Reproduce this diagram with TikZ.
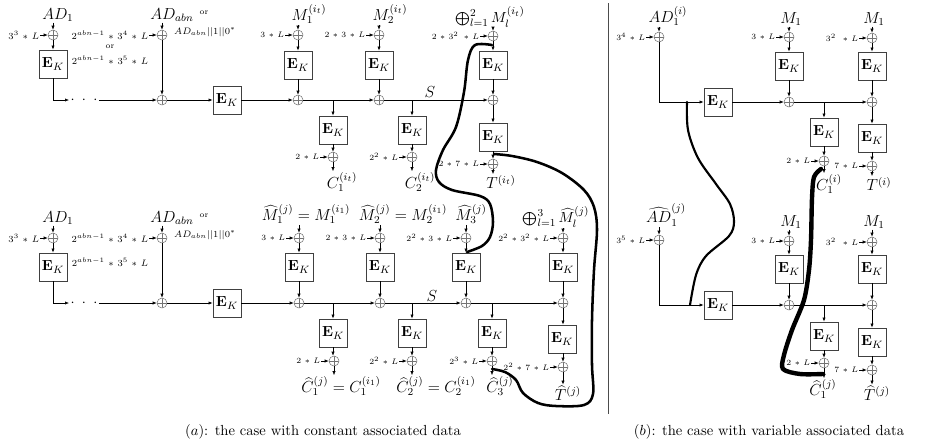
\documentclass[tikz,border=0pt]{standalone}
\usetikzlibrary{arrows.meta}
\tikzset{
  arr/.style={-{Latex[length=3pt,width=2.4pt]}, line width=0.45pt},
  ek/.style={draw=black!75, line width=0.6pt, minimum width=21pt, minimum height=21pt, inner sep=0pt, font=\fontsize{10.95}{12}\selectfont},
  xr/.style={circle, draw=black!55, line width=0.4pt, minimum size=7.5pt, inner sep=0pt,
    path picture={\draw[black!55, line width=0.4pt] (path picture bounding box.north) -- (path picture bounding box.south) (path picture bounding box.west) -- (path picture bounding box.east);}},
  sl/.style={font={\fontsize{6}{7}\selectfont\medmuskip=6mu}, inner sep=0.5pt},
  sL/.style={font={\fontsize{7}{8}\selectfont\medmuskip=6mu}, inner sep=0.5pt},
  bl/.style={font=\fontsize{12}{14}\selectfont, inner sep=0.5pt},
  ml/.style={font=\fontsize{7}{9}\selectfont, inner sep=1pt},
  orl/.style={font=\fontsize{6}{7}\selectfont, inner sep=0.5pt},
  hand/.style={line width=1.9pt, line cap=round, line join=round},
}
\newcommand\ekn[3]{\node[ek] (#1) at (#2,#3) {$\mathbf{E}_K$};}
\newcommand\xorL[5]{%
  \node[xr] (#1) at (#2,#3) {};
  \node[#5, anchor=east] (#1l) at (#2-13,#3) {$#4$};
  \draw[arr] (#1l.east) -- (#1.west);}
\begin{document}
\begin{tikzpicture}[x=0.75pt,y=-0.75pt]
\useasboundingbox (0,0) rectangle (935,444);
% ================= (a) top row =================
\node[bl] (tAD) at (58,15) {$AD_1$};
\xorL{tXa}{53}{35}{3^3*L}{sL}
\ekn{tEa}{53}{64}
\draw[arr] (tXa |- tAD.south) -- (tXa.north);
\draw[arr] (tXa) -- (tEa);
\node[inner sep=1pt, font=\fontsize{10.95}{12}\selectfont] (tDots) at (84,100) {$\cdot\;\cdot\;\cdot$};
\draw[arr] (tEa.south) |- (tDots.west);
\node[bl] (tADn) at (172,15) {$AD_{abn}$};
\node[orl] (tor1) at (204,13) {or};
\node[ml] (tADn2) at (205,32) {$AD_{abn}||1||0^*$};
\xorL{tXb}{162}{35}{2^{abn-1}*3^4*L}{sL}
\node[orl] (tor2) at (110,47) {or};
\node[sL] (t35) at (110,60) {$2^{abn-1}*3^5*L$};
\node[xr] (tXc) at (162,100) {};
\draw[arr] (tXb |- tADn.south) -- (tXb.north);
\draw[arr] (tDots.east) -- (tXc.west);
\draw[arr] (tXb) -- (tXc);
\ekn{tEb}{227}{100}
\draw[arr] (tXc) -- (tEb);
% column 1
\node[bl] (tM1) at (309,14) {$M_1^{(i_t)}$};
\xorL{tX1}{298}{35}{3*L}{sl}
\ekn{tE1}{298}{65}
\node[xr] (tY1) at (298,100) {};
\draw[arr] (tX1 |- tM1.south) -- (tX1.north);
\draw[arr] (tX1) -- (tE1);
\draw[arr] (tE1) -- (tY1);
\draw[arr] (tEb) -- (tY1);
% column 2
\node[bl] (tM2) at (390,14) {$M_2^{(i_t)}$};
\xorL{tX2}{379}{35}{2*3*L}{sl}
\ekn{tE2}{379}{65}
\node[xr] (tY2) at (379,100) {};
\draw[arr] (tX2 |- tM2.south) -- (tX2.north);
\draw[arr] (tX2) -- (tE2);
\draw[arr] (tE2) -- (tY2);
\draw[arr] (tY1) -- (tY2);
% column 3 (final)
\node[bl, font=\fontsize{10.95}{12}\selectfont] (tM3) at (490,17) {$\bigoplus_{l=1}^2 M_l^{(i_t)}$};
\xorL{tX3}{493}{36}{2*3^2\,*L}{sl}
\ekn{tE3}{493}{65}
\node[xr] (tY3) at (493,100) {};
\ekn{tF3}{493}{137}
\xorL{tZ3}{493}{164}{2*7*L}{sl}
\node[bl] (tT) at (501,182) {$T^{(i_t)}$};
\draw[arr] (tX3 |- tM3.south) -- (tX3.north);
\draw[arr] (tX3) -- (tE3);
\draw[arr] (tE3) -- (tY3);
\draw[arr] (tY2) -- (tY3);
\draw[arr] (tY3) -- (tF3);
\draw[arr] (tF3) -- (tZ3);
\draw[arr] (tZ3) -- (tZ3 |- tT.north);
\node[bl] (tS) at (430,92) {$S$};
% lower
\coordinate (tB1) at (333,100);
\ekn{tL1}{333}{130}
\xorL{tW1}{333}{157}{2*L}{sl}
\node[bl] (tC1) at (342,182) {$C_1^{(i_t)}$};
\draw[arr] (tB1) -- (tL1);
\draw[arr] (tL1) -- (tW1);
\draw[arr] (tW1) -- (tW1 |- tC1.north);
\coordinate (tB2) at (412,100);
\ekn{tL2}{412}{130}
\xorL{tW2}{412}{157}{2^2*L}{sl}
\node[bl] (tC2) at (420,182) {$C_2^{(i_t)}$};
\draw[arr] (tB2) -- (tL2);
\draw[arr] (tL2) -- (tW2);
\draw[arr] (tW2) -- (tW2 |- tC2.north);
% ================= (a) bottom row =================
\node[bl] (bAD) at (58,218) {$AD_1$};
\xorL{bXa}{53}{238}{3^3*L}{sL}
\ekn{bEa}{53}{267}
\draw[arr] (bXa |- bAD.south) -- (bXa.north);
\draw[arr] (bXa) -- (bEa);
\node[inner sep=1pt, font=\fontsize{10.95}{12}\selectfont] (bDots) at (84,303) {$\cdot\;\cdot\;\cdot$};
\draw[arr] (bEa.south) |- (bDots.west);
\node[bl] (bADn) at (172,218) {$AD_{abn}$};
\node[orl] (bor1) at (204,216) {or};
\node[ml] (bADn2) at (205,235) {$AD_{abn}||1||0^*$};
\xorL{bXb}{162}{238}{2^{abn-1}*3^4*L}{sL}
\node[sL] (b35) at (110,262) {$2^{abn-1}*3^5*L$};
\node[xr] (bXc) at (162,303) {};
\draw[arr] (bXb |- bADn.south) -- (bXb.north);
\draw[arr] (bDots.east) -- (bXc.west);
\draw[arr] (bXb) -- (bXc);
\ekn{bEb}{227}{303}
\draw[arr] (bXc) -- (bEb);
% column 1
\node[bl] (bM1) at (306,214) {$\widehat{M}_1^{(j)}=M_1^{(i_1)}$};
\xorL{bX1}{299}{238}{3*L}{sl}
\ekn{bE1}{299}{267}
\node[xr] (bY1) at (299,303) {};
\draw[arr] (bX1 |- bM1.south) -- (bX1.north);
\draw[arr] (bX1) -- (bE1);
\draw[arr] (bE1) -- (bY1);
\draw[arr] (bEb) -- (bY1);
% column 2
\node[bl] (bM2) at (403,214) {$\widehat{M}_2^{(j)}=M_2^{(i_1)}$};
\xorL{bX2}{380}{238}{2*3*L}{sl}
\ekn{bE2}{380}{267}
\node[xr] (bY2) at (380,303) {};
\draw[arr] (bX2 |- bM2.south) -- (bX2.north);
\draw[arr] (bX2) -- (bE2);
\draw[arr] (bE2) -- (bY2);
\draw[arr] (bY1) -- (bY2);
% column 3
\node[bl] (bM3) at (471,214) {$\widehat{M}_3^{(j)}$};
\xorL{bX3}{466}{238}{2^2*3*L}{sl}
\ekn{bE3}{466}{267}
\node[xr] (bY3) at (466,303) {};
\draw[arr] (bX3 |- bM3.south) -- (bX3.north);
\draw[arr] (bX3) -- (bE3);
\draw[arr] (bE3) -- (bY3);
\draw[arr] (bY2) -- (bY3);
% column 4 (final)
\node[bl, font=\fontsize{10.95}{12}\selectfont] (bM4) at (556,217) {$\bigoplus_{l=1}^3 \widehat{M}_l^{(j)}$};
\xorL{bX4}{563}{238}{2^2*3^2*L}{sl}
\ekn{bE4}{563}{267}
\node[xr] (bY4) at (563,303) {};
\ekn{bF4}{562}{339}
\xorL{bZ4}{563}{367}{2^2*7*L}{sl}
\node[bl] (bT) at (568,393) {$\widehat{T}^{(j)}$};
\draw[arr] (bX4 |- bM4.south) -- (bX4.north);
\draw[arr] (bX4) -- (bE4);
\draw[arr] (bE4) -- (bY4);
\draw[arr] (bY3) -- (bY4);
\draw[arr] (bY4) -- (bY4 |- bF4.north);
\draw[arr] (bZ4 |- bF4.south) -- (bZ4);
\draw[arr] (bZ4) -- (bZ4 |- bT.north);
\node[bl] (bS) at (432,296) {$S$};
% lower
\coordinate (bB1) at (333,303);
\ekn{bL1}{333}{333}
\xorL{bW1}{334}{361}{2*L}{sl}
\node[bl] (bC1) at (341,386) {$\widehat{C}_1^{(j)}=C_1^{(i_1)}$};
\draw[arr] (bB1) -- (bL1);
\draw[arr] (bL1) -- (bL1 |- bW1.north);
\draw[arr] (bW1) -- (bW1 |- bC1.north);
\coordinate (bB2) at (412,303);
\ekn{bL2}{412}{333}
\xorL{bW2}{412}{361}{2^2*L}{sl}
\node[bl] (bC2) at (436,386) {$\widehat{C}_2^{(j)}=C_2^{(i_1)}$};
\draw[arr] (bB2) -- (bL2);
\draw[arr] (bL2) -- (bW2);
\draw[arr] (bW2) -- (bW2 |- bC2.north);
\coordinate (bB3) at (492,303);
\ekn{bL3}{492}{333}
\xorL{bW3}{492}{361}{2^3*L}{sl}
\node[bl] (bC3) at (500,386) {$\widehat{C}_3^{(j)}$};
\draw[arr] (bB3) -- (bL3);
\draw[arr] (bL3) -- (bW3);
\draw[arr] (bW3) -- (bW3 |- bC3.north);
% ================= separator =================
\coordinate (sepT) at (608,3);
\coordinate (sepB) at (608,414);
\draw[line width=0.6pt, black!70] (sepT) -- (sepB);
% ================= (b) top =================
\node[bl] (rAD) at (668,16) {$AD_1^{(i)}$};
\xorL{rXa}{659}{37}{3^4*L}{sl}
\ekn{rEa}{718}{102}
\draw[arr] (rXa |- rAD.south) -- (rXa.north);
\draw[arr] (rXa.south) |- (rEa.west);
\node[bl] (rM1) at (791,19) {$M_1$};
\xorL{rX1}{789}{37}{3*L}{sl}
\ekn{rE1}{789}{66}
\node[xr] (rY1) at (789,102) {};
\draw[arr] (rX1 |- rM1.south) -- (rX1.north);
\draw[arr] (rX1) -- (rE1);
\draw[arr] (rE1) -- (rY1);
\draw[arr] (rEa) -- (rY1);
\node[bl] (rM2) at (874,19) {$M_1$};
\xorL{rX2}{872}{38}{3^2\ *L}{sl}
\ekn{rE2}{872}{66}
\node[xr] (rY2) at (872,102) {};
\ekn{rF2}{872}{138}
\xorL{rZ2}{872}{166}{7*L}{sl}
\node[bl] (rT) at (879,184) {$T^{(i)}$};
\draw[arr] (rX2 |- rM2.south) -- (rX2.north);
\draw[arr] (rX2) -- (rE2);
\draw[arr] (rE2) -- (rY2);
\draw[arr] (rY1) -- (rY2);
\draw[arr] (rY2) -- (rF2);
\draw[arr] (rF2) -- (rZ2);
\draw[arr] (rZ2) -- (rZ2 |- rT.north);
\coordinate (rB1) at (824,102);
\ekn{rL1}{824}{132}
\xorL{rW1}{824}{161}{2*L}{sl}
\node[bl] (rC1) at (829,184) {$C_1^{(i)}$};
\draw[arr] (rB1) -- (rL1);
\draw[arr] (rL1) -- (rW1);
\draw[arr] (rW1) -- (rW1 |- rC1.north);
% ================= (b) bottom =================
\node[bl] (sAD) at (666,215) {$\widehat{AD}_1^{(j)}$};
\xorL{sXa}{659}{240}{3^5*L}{sl}
\ekn{sEa}{718}{305}
\draw[arr] (sXa |- sAD.south) -- (sXa.north);
\draw[arr] (sXa.south) |- (sEa.west);
\node[bl] (sM1) at (791,222) {$M_1$};
\xorL{sX1}{789}{241}{3*L}{sl}
\ekn{sE1}{789}{269}
\node[xr] (sY1) at (789,305) {};
\draw[arr] (sX1 |- sM1.south) -- (sX1.north);
\draw[arr] (sX1) -- (sE1);
\draw[arr] (sE1) -- (sY1);
\draw[arr] (sEa) -- (sY1);
\node[bl] (sM2) at (874,222) {$M_1$};
\xorL{sX2}{872}{242}{3^2\ *L}{sl}
\ekn{sE2}{872}{269}
\node[xr] (sY2) at (872,305) {};
\ekn{sF2}{872}{342}
\xorL{sZ2}{872}{370}{7*L}{sl}
\node[bl] (sT) at (877,393) {$\widehat{T}^{(j)}$};
\draw[arr] (sX2 |- sM2.south) -- (sX2.north);
\draw[arr] (sX2) -- (sE2);
\draw[arr] (sE2) -- (sY2);
\draw[arr] (sY1) -- (sY2);
\draw[arr] (sY2) -- (sF2);
\draw[arr] (sF2) -- (sZ2);
\draw[arr] (sZ2) -- (sZ2 |- sT.north);
\coordinate (sB1) at (824,305);
\ekn{sL1}{824}{336}
\xorL{sW1}{824}{363}{2*L}{sl}
\node[bl] (sC1) at (823,389) {$\widehat{C}_1^{(j)}$};
\draw[arr] (sB1) -- (sL1);
\draw[arr] (sL1) -- (sW1);
\draw[arr] (sW1) -- (sW1 |- sC1.north);
% ================= hand-drawn curves =================
\coordinate (hA1) at (492,45);
\coordinate (hA2) at (467,252);
\draw[hand] plot[smooth, tension=0.55] coordinates {(hA1) (475,45) (468,60) (464,92) (456,127) (443,150) (436,170) (439,182) (452,190) (480,196) (490,204) (493,222) (490,237) (482,246) (hA2)};
\coordinate (hB1) at (494,154);
\coordinate (hB2) at (492,369);
\draw[hand] plot[smooth, tension=0.55] coordinates {(hB1) (512,156) (537,162) (562,173) (584,190) (594,207) (597,230) (594,270) (592,320) (592,365) (593,394) (584,405) (556,406) (538,403) (523,393) (516,380) (505,372) (hB2)};
\coordinate (hC1) at (687,102);
\coordinate (hC2) at (690,305);
\draw[hand, line width=1.6pt] plot[smooth, tension=0.55] coordinates {(hC1) (688,130) (698,158) (716,184) (730,204) (734,222) (729,236) (706,256) (696,275) (hC2)};
\coordinate (hD1) at (821,169);
\coordinate (hD2) at (823,374);
\draw[hand, line width=3.3pt] plot[smooth, tension=0.5] coordinates {(hD1) (814,177) (812,198) (811,240) (809,270) (804,300) (792,330) (784,355) (783,369) (800,374) (hD2)};
% ================= captions =================
\node[font=\fontsize{10.95}{13}\selectfont] (capA) at (323,432) {$(a)$: the case with constant associated data};
\node[font=\fontsize{10.95}{13}\selectfont] (capB) at (769,432) {$(b)$: the case with variable associated data};
\end{tikzpicture}
\end{document}
